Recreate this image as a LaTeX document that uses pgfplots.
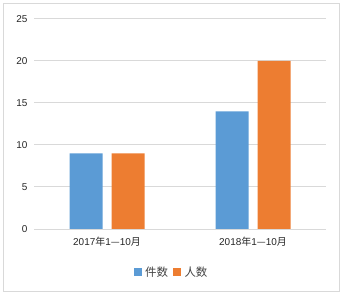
\documentclass[border=0pt]{standalone}
\usepackage{pgfplots}
\pgfplotsset{compat=1.18}
\usepackage{fontspec}
\setmainfont{Liberation Sans}
\newfontfamily\cjk{Noto Sans CJK SC}
\definecolor{cblue}{HTML}{5B9BD5}
\definecolor{corange}{HTML}{ED7D31}
\definecolor{gridc}{HTML}{D9D9D9}
\definecolor{txt}{HTML}{262626}
\definecolor{legtxt}{HTML}{404040}
\begin{document}
\begin{tikzpicture}[x=1bp,y=1bp]
\useasboundingbox (0,0) rectangle (345,297);
\draw[gridc, line width=1bp] (3.5,5.5) rectangle (339.5,293.5);
\begin{axis}[at={(34bp,68bp)}, anchor=south west, scale only axis,
  width=292bp, height=210bp,
  ybar=9bp, bar width=33bp,
  xmin=-0.5, xmax=1.5, ymin=0, ymax=25,
  ytick={0,5,...,25}, xtick={0,1},
  xticklabels={2017{\cjk 年}1{\cjk —}10{\cjk 月}, 2018{\cjk 年}1{\cjk —}10{\cjk 月}},
  axis line style={draw=none},
  major tick length=0pt,
  ymajorgrids, grid style={gridc, line width=1bp},
  /pgf/number format/assume math mode=true,
  ticklabel style={font=\fontsize{10}{12}\selectfont, text=txt},
  yticklabel style={anchor=east, xshift=-3bp},
  xticklabel style={anchor=center, yshift=-13bp},
  legend style={at={(0.471,-0.205)}, anchor=center, draw=none, fill=none,
    legend columns=2, font=\fontsize{11.5}{13}\selectfont, text=legtxt,
    /tikz/every even column/.append style={column sep=3bp}},
  legend image code/.code={\fill[#1] (0bp,-4bp) rectangle (8bp,4bp);},
]
\addplot[fill=cblue, draw=none] coordinates {(0,9) (1,14)};
\addplot[fill=corange, draw=none] coordinates {(0,9) (1,20)};
\legend{\hspace{1.5bp}{\cjk 件数},\hspace{1.5bp}{\cjk 人数}}
\end{axis}
\end{tikzpicture}
\end{document}
